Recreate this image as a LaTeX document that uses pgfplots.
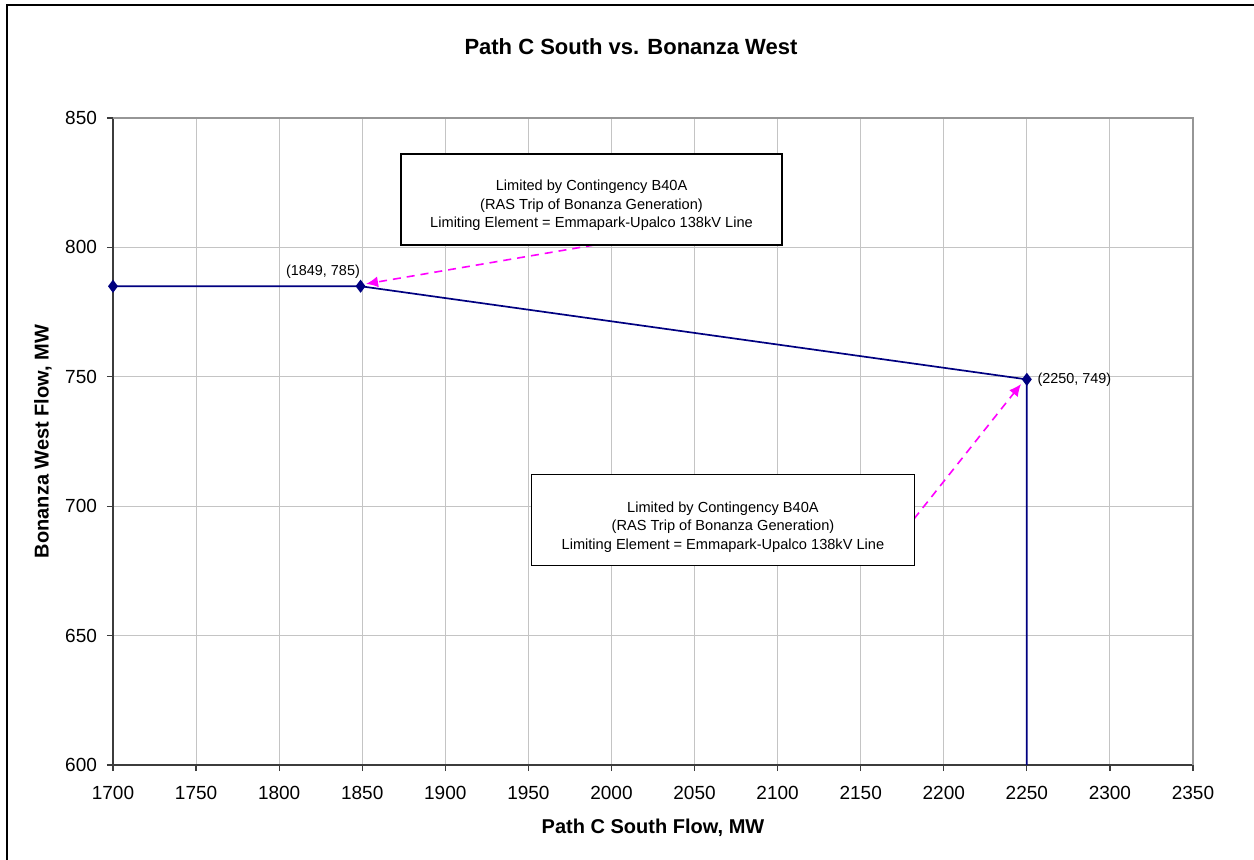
\documentclass[border=0pt]{standalone}
\usepackage{pgfplots}
\pgfplotsset{compat=1.18}
\usepackage{fontspec}
\setmainfont{Liberation Sans}
\usetikzlibrary{arrows.meta}
\definecolor{navyline}{RGB}{0,0,128}
\definecolor{gridgray}{RGB}{196,196,196}
\definecolor{framegray}{RGB}{150,150,150}
\definecolor{axisdark}{RGB}{60,60,60}
\definecolor{pinkarrow}{RGB}{255,0,255}
\begin{document}
\begin{tikzpicture}
\useasboundingbox (0,0) rectangle (627pt,429.5pt);
\draw[line width=1.1pt,black] (3.4pt,-1pt) -- (3.4pt,427pt) -- (628pt,427pt);
\begin{axis}[
  at={(56.5pt,47pt)}, anchor=south west,
  scale only axis, width=540pt, height=323.5pt,
  xmin=1700, xmax=2350, ymin=600, ymax=850,
  xtick={1700,1750,...,2350}, ytick={600,650,...,850},
  grid=major, major grid style={gridgray, line width=0.5pt},
  axis x line*=bottom, axis y line*=left,
  axis line style={-, axisdark, line width=0.75pt},
  tick align=outside, major tick length=3pt,
  tick style={axisdark, line width=0.6pt},
  xticklabel style={font=\fontsize{9.5}{11}\selectfont, yshift=-4pt},
  yticklabel style={font=\fontsize{9.5}{11}\selectfont, xshift=-1.5pt},
  /pgf/number format/assume math mode=true,
  /pgf/number format/1000 sep={},
  title={Path C South vs. Bonanza West},
  title style={font=\fontsize{11}{13}\selectfont\bfseries, at={(axis description cs:0.4796,1.0912)}, anchor=center},
  xlabel={Path C South Flow, MW},
  xlabel style={font=\fontsize{10}{12}\selectfont\bfseries, at={(axis description cs:0.5,-0.0974)}, anchor=center},
  ylabel={Bonanza West Flow, MW},
  ylabel style={font=\fontsize{10}{12}\selectfont\bfseries, at={(axis description cs:-0.0648,0.5)}, anchor=center, rotate=0},
  clip=false,
]
\addplot[navyline, line width=0.85pt, mark=diamond*, mark size=2.6pt, mark indices={1,2,3}, mark options={fill=navyline, draw=navyline}]
  coordinates {(1700,785) (1849,785) (2250,749) (2250,600)};
\node[anchor=south east, font=\fontsize{7.2}{9}\selectfont, inner sep=1pt] at (axis cs:1850,787) {(1849, 785)};
\node[anchor=west, font=\fontsize{7.2}{9}\selectfont, inner sep=1pt] at (axis cs:2255,749) {(2250, 749)};
\draw[pinkarrow, line width=0.8pt, dash pattern=on 4pt off 3pt, -{Latex[length=6pt,width=5.5pt]}] (axis cs:1989.5,800.9) -- (axis cs:1852.3,785.9);
\draw[pinkarrow, line width=0.8pt, dash pattern=on 4pt off 3pt, -{Latex[length=6pt,width=5.5pt]}] (axis cs:2182.1,695.1) -- (axis cs:2246.5,747.2);
\node[draw=black, fill=white, line width=0.6pt, minimum width=190.5pt, minimum height=45.5pt] at (axis cs:1988,818.5) {};
\node[align=center, font=\fontsize{7.3}{9.25}\selectfont, yshift=-3pt] at (axis cs:1988,818.5) {Limited by Contingency B40A\\(RAS Trip of Bonanza Generation)\\Limiting Element = Emmapark-Upalco 138kV Line};
\node[draw=black, fill=white, line width=0.6pt, minimum width=191.5pt, minimum height=45.5pt] at (axis cs:2067.1,694.7) {};
\node[align=center, font=\fontsize{7.3}{9.25}\selectfont, yshift=-3.5pt] at (axis cs:2067.1,694.7) {Limited by Contingency B40A\\(RAS Trip of Bonanza Generation)\\Limiting Element = Emmapark-Upalco 138kV Line};
\draw[framegray, line width=0.9pt] (rel axis cs:0,1) -- (rel axis cs:1,1) -- (rel axis cs:1,0);
\end{axis}
\end{tikzpicture}
\end{document}
